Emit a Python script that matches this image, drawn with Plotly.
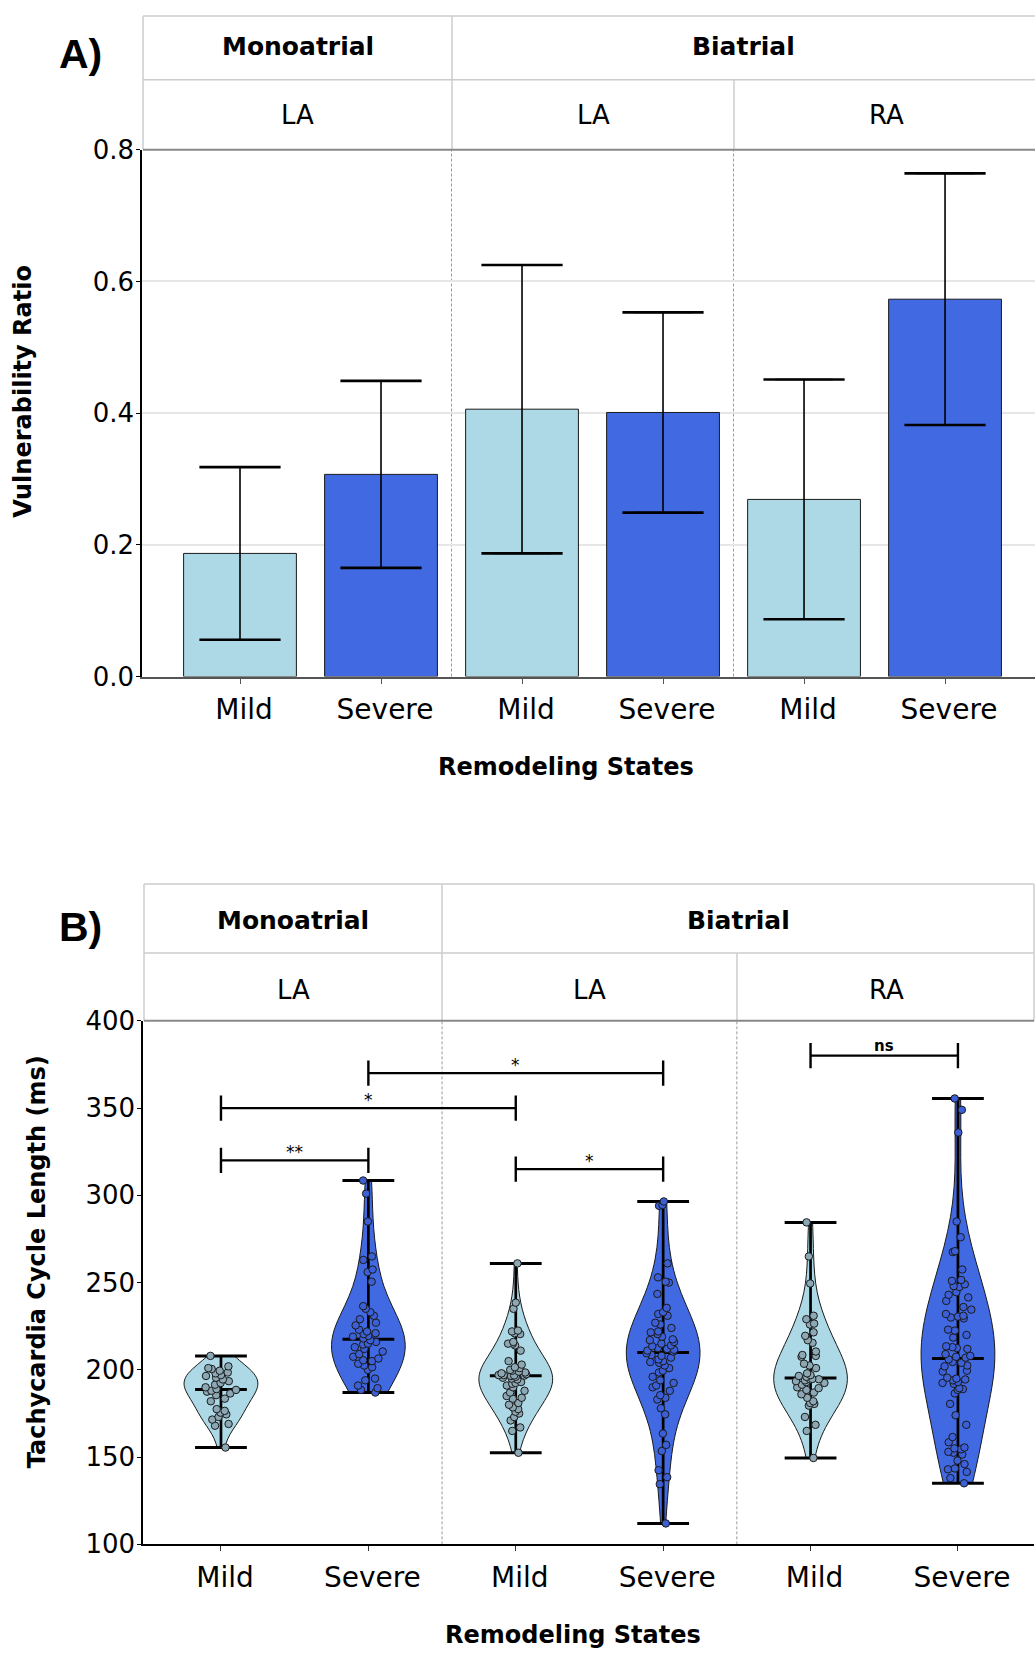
import statistics
import plotly.graph_objects as go

W, H = 1035, 1654

# ---------------- data ----------------
conditions = ["Mild", "Severe", "Mild", "Severe", "Mild", "Severe"]

# Panel A: vulnerability ratio (mean and symmetric error)
vuln_mean = [0.187, 0.307, 0.406, 0.401, 0.269, 0.573]
vuln_err = [0.131, 0.142, 0.219, 0.152, 0.182, 0.191]

# Panel B: tachycardia cycle length samples (ms)
tcl_mono_la_mild = [155.5, 168.0, 169.0, 171.5, 173.0, 174.5, 175.5, 176.5, 177.5, 182.0,
                    183.5, 185.5, 186.5, 187.5, 188.0, 188.5, 189.0, 190.0, 191.5, 192.5,
                    193.5, 194.5, 195.5, 196.5, 197.0, 198.0, 198.5, 199.5, 200.5, 201.0,
                    202.0, 208.0]
tcl_mono_la_severe = [187.0, 188.5, 189.5, 191.0, 194.0, 195.0, 200.0, 201.5, 202.5, 203.5,
                      205.0, 205.5, 206.5, 207.5, 209.0, 210.5, 212.0, 213.0, 214.5, 215.0,
                      216.0, 217.0, 218.0, 219.0, 219.5, 220.5, 221.0, 222.0, 223.0, 225.5,
                      227.0, 229.0, 231.0, 233.0, 235.0, 236.5, 250.5, 256.0, 257.5, 263.0,
                      265.0, 285.0, 301.0, 308.5]
tcl_bi_la_mild = [152.5, 165.0, 167.0, 171.0, 173.0, 175.0, 176.0, 177.5, 178.5, 180.0,
                  181.0, 183.5, 184.0, 185.0, 187.0, 188.0, 190.0, 191.0, 192.0, 192.5,
                  193.0, 194.5, 195.0, 195.5, 196.0, 196.5, 196.7, 196.8, 197.0, 197.0,
                  197.5, 198.0, 198.5, 199.0, 199.5, 200.0, 201.0, 201.5, 203.0, 205.0,
                  211.0, 214.0, 215.0, 215.0, 216.0, 220.5, 221.0, 222.0, 222.5, 235.0,
                  238.5, 261.0]
tcl_bi_la_severe = [112.0, 134.5, 138.5, 142.5, 153.5, 157.0, 163.5, 174.5, 178.0, 183.0,
                    184.0, 185.5, 188.0, 190.0, 191.0, 192.5, 194.0, 196.0, 198.5, 199.5,
                    201.0, 202.5, 204.0, 204.5, 205.0, 206.0, 207.0, 208.0, 208.5, 209.5,
                    210.5, 211.0, 211.5, 212.0, 212.5, 213.5, 214.0, 215.0, 216.0, 217.0,
                    217.5, 219.0, 220.5, 221.5, 222.0, 224.0, 226.0, 227.0, 231.0, 232.0,
                    233.0, 235.5, 243.5, 250.0, 250.5, 253.0, 261.0, 294.0, 294.5, 296.5]
tcl_bi_ra_mild = [149.5, 165.0, 168.5, 173.0, 179.5, 180.5, 181.0, 182.0, 184.0, 186.0,
                  187.0, 188.5, 189.5, 190.0, 191.5, 192.5, 193.0, 193.5, 194.0, 194.5,
                  194.6, 194.8, 196.0, 196.5, 197.0, 198.0, 201.0, 202.5, 203.5, 207.5,
                  208.0, 208.5, 210.5, 215.5, 217.0, 219.5, 221.5, 226.0, 226.5, 229.0,
                  231.0, 249.5, 265.0, 284.5]
tcl_bi_ra_severe = [135.0, 138.0, 141.5, 143.0, 143.5, 146.0, 148.0, 151.5, 152.5, 153.0,
                    154.5, 155.0, 155.5, 158.5, 161.5, 168.5, 174.0, 180.5, 186.5, 188.5,
                    189.0, 189.5, 192.0, 192.5, 193.0, 194.0, 194.5, 195.0, 195.5, 199.0,
                    199.5, 202.0, 202.5, 204.0, 204.5, 206.0, 207.0, 207.5, 208.0, 209.0,
                    212.0, 212.5, 213.0, 213.5, 218.5, 220.0, 222.5, 223.0, 229.5, 230.0,
                    230.5, 231.0, 232.0, 234.5, 236.0, 239.5, 241.5, 243.0, 244.5, 247.5,
                    248.0, 249.0, 251.0, 251.5, 257.5, 267.5, 268.0, 276.0, 285.0, 336.0,
                    349.0, 355.5]

tcl_groups = [tcl_mono_la_mild, tcl_mono_la_severe, tcl_bi_la_mild,
              tcl_bi_la_severe, tcl_bi_ra_mild, tcl_bi_ra_severe]

# Significance comparisons (group index pairs, bracket level in ms, label)
sig_pairs = [(0, 1), (0, 2), (1, 3), (2, 3), (4, 5)]
sig_levels = [320, 350, 370, 315, 380]
sig_labels = ["**", "*", "*", "*", "ns"]

# ---------------- styling ----------------
FILL = {"Mild": "#ADD8E6", "Severe": "#4169E1"}
POINT = {"Mild": "#8DA8B5", "Severe": "#3C5FD6"}
TXT = "DejaVu Sans"
NUM = "DejaVu Sans"

# the rendered page maps layout pixels to screen pixels as y_screen = 0.984*y + 13
Y_SCALE, Y_OFF = 0.984, 13.0


def fx(p):
    return p / W


def fy(p):
    return 1 - ((p - Y_OFF) / Y_SCALE) / H


def kde_bw(vals):
    # Scott's rule, widened a little for smoother outlines
    return 1.3 * statistics.stdev(vals) * len(vals) ** (-0.2)


fig = go.Figure()
xs = list(range(len(conditions)))

# ---------------- Panel A: bars ----------------
fig.add_trace(go.Bar(
    x=xs, y=vuln_mean, width=0.8,
    marker=dict(color=[FILL[c] for c in conditions], line=dict(color="#1a1a1a", width=1)),
    error_y=dict(type="data", array=vuln_err, color="black", thickness=1.6, width=29),
    xaxis="x", yaxis="y", hoverinfo="skip",
))
# heavier caps on the error bars
cap_y = [m + e for m, e in zip(vuln_mean, vuln_err)] + [m - e for m, e in zip(vuln_mean, vuln_err)]
fig.add_trace(go.Scatter(
    x=xs + xs, y=cap_y, mode="markers",
    marker=dict(symbol="line-ew", size=58, color="black", line=dict(color="black", width=2.6)),
    xaxis="x", yaxis="y", hoverinfo="skip",
))

# ---------------- Panel B: violins ----------------
for i, (cond, vals) in enumerate(zip(conditions, tcl_groups)):
    fig.add_trace(go.Violin(
        x=[i] * len(vals), y=vals, width=0.5, scalemode="width", spanmode="hard",
        bandwidth=kde_bw(vals),
        points=False, fillcolor=FILL[cond], line=dict(color="#1a1a1a", width=1),
        box_visible=False, meanline_visible=False,
        xaxis="x2", yaxis="y2", hoverinfo="skip",
    ))

# range line, min/max caps and median line for each violin
rx, ry, cx, cy = [], [], [], []
for i, vals in enumerate(tcl_groups):
    lo, hi, med = min(vals), max(vals), statistics.median(vals)
    rx += [i, i, None]
    ry += [lo, hi, None]
    cx += [i, i, i]
    cy += [lo, hi, med]
fig.add_trace(go.Scatter(x=rx, y=ry, mode="lines", line=dict(color="black", width=2.7),
                         xaxis="x2", yaxis="y2", hoverinfo="skip"))
fig.add_trace(go.Scatter(
    x=cx, y=cy, mode="markers",
    marker=dict(symbol="line-ew", size=37, color="black", line=dict(color="black", width=3)),
    xaxis="x2", yaxis="y2", hoverinfo="skip",
))

# jittered sample points, on an overlaid subplot so they sit above the lines
for i, (cond, vals) in enumerate(zip(conditions, tcl_groups)):
    fig.add_trace(go.Violin(
        x=[i] * len(vals), y=vals, width=0.5, scalemode="width", spanmode="hard",
        bandwidth=kde_bw(vals),
        points="all", pointpos=0, jitter=0.5,
        fillcolor="rgba(0,0,0,0)", line=dict(color="rgba(0,0,0,0)", width=0),
        marker=dict(size=7.5, color=POINT[cond], line=dict(color="#1a1a1a", width=1)),
        box_visible=False, meanline_visible=False,
        xaxis="x3", yaxis="y3", hoverinfo="skip",
    ))

# significance brackets
for (a, b), lvl in zip(sig_pairs, sig_levels):
    fig.add_trace(go.Scatter(
        x=[a, b], y=[lvl, lvl], mode="lines+markers",
        line=dict(color="black", width=2.2),
        marker=dict(symbol="line-ns", size=18, color="black", line=dict(color="black", width=2.4)),
        xaxis="x2", yaxis="y2", hoverinfo="skip",
    ))

annotations = []
for (a, b), lvl, lab in zip(sig_pairs, sig_levels, sig_labels):
    bold = lab == "ns"
    annotations.append(dict(
        x=(a + b) / 2, y=lvl, xref="x2", yref="y2", showarrow=False,
        text=f"<b>{lab}</b>" if bold else lab,
        font=dict(family=TXT, size=15 if bold else 17, color="black"),
        xanchor="center", yanchor="bottom", yshift=-1 if bold else -4,
    ))

# ---------------- strip headers ----------------
shapes = []
STRIP = "#cccccc"


def pline(x0, y0, x1, y1, color=STRIP, width=1.5):
    shapes.append(dict(type="line", xref="paper", yref="paper",
                       x0=fx(x0), y0=fy(y0), x1=fx(x1), y1=fy(y1),
                       line=dict(color=color, width=width)))


# panel A strips
pline(143, 14, 1040, 14)
pline(143, 78, 1040, 78)
pline(143, 14, 143, 148)
pline(452, 14, 452, 148)
pline(734, 78, 734, 148)
pline(143, 148, 1040, 148, color="#888888", width=2)
# panel B strips
pline(144, 884, 1034, 884)
pline(144, 953, 1034, 953)
pline(144, 884, 144, 1021)
pline(1034, 884, 1034, 1021)
pline(442, 884, 442, 1021)
pline(737, 953, 737, 1021)
pline(144, 1021, 1034, 1021, color="#888888", width=2)

# dashed separators between facets
for xr, yr in (("x", "y domain"), ("x2", "y2 domain")):
    for xv in (1.5, 3.5):
        shapes.append(dict(type="line", xref=xr, yref=yr, x0=xv, x1=xv, y0=0, y1=1,
                           line=dict(color="#9a9a9a", width=1, dash="3px,2px"), layer="below"))


def label(text, x, y, size, bold=False, angle=0, family=TXT):
    annotations.append(dict(
        x=fx(x), y=fy(y), xref="paper", yref="paper", showarrow=False,
        text=f"<b>{text}</b>" if bold else text, textangle=angle,
        font=dict(family=family, size=size, color="black"),
        xanchor="center", yanchor="middle",
    ))


label("A)", 80, 52, 41, bold=True, family="Liberation Sans")
label("B)", 80, 927, 41, bold=True, family="Liberation Sans")

label("Monoatrial", 297.5, 45, 25, bold=True)
label("Biatrial", 743, 45, 25, bold=True)
label("LA", 297.5, 113, 26)
label("LA", 593, 113, 26)
label("RA", 886, 113, 26)

label("Monoatrial", 293, 920, 25, bold=True)
label("Biatrial", 738, 920, 25, bold=True)
label("LA", 293, 990, 26)
label("LA", 589.5, 990, 26)
label("RA", 886, 990, 26)

label("Vulnerability Ratio", 23.5, 390, 24, bold=True, angle=-90)
label("Tachycardia Cycle Length (ms)", 37, 1263, 24, bold=True, angle=-90)
label("Remodeling States", 566, 767, 24, bold=True)
label("Remodeling States", 573, 1637, 24, bold=True)

# ---------------- axes ----------------
xcommon = dict(
    tickvals=xs, ticktext=conditions, tickfont=dict(family=TXT, size=28, color="black"),
    ticks="outside", ticklen=5, showline=True, linewidth=2,
    showgrid=False, zeroline=False, ticklabelstandoff=2, ticklabelshift=4,
)
ycommon = dict(
    tickfont=dict(family=NUM, size=26, color="black"),
    ticks="outside", ticklen=4, tickcolor="black", ticklabelstandoff=-3,
    showline=True, linecolor="black", linewidth=1.5, zeroline=False,
)
fig.update_layout(
    width=W, height=H, margin=dict(l=0, r=0, t=0, b=0),
    paper_bgcolor="white", plot_bgcolor="white", showlegend=False,
    violinmode="overlay", barmode="overlay",
    xaxis=dict(domain=[fx(142), 1.0], range=[-0.695, 5.638], anchor="y",
               linecolor="#555555", tickcolor="#555555", **xcommon),
    yaxis=dict(domain=[fy(676), fy(148)], range=[0, 0.8], anchor="x",
               tickvals=[0, 0.2, 0.4, 0.6, 0.8], tickformat=".1f",
               showgrid=True, gridcolor="#e6e6e6", gridwidth=1.5, **ycommon),
    xaxis2=dict(domain=[fx(143), fx(1034)], range=[-0.529, 5.516], anchor="y2",
                linecolor="black", tickcolor="#333333", **xcommon),
    yaxis2=dict(domain=[fy(1545.7), fy(1021)], range=[100, 400], anchor="x2",
                tickvals=[100, 150, 200, 250, 300, 350, 400],
                showgrid=False, **ycommon),
    xaxis3=dict(overlaying="x2", range=[-0.529, 5.516], anchor="y3", visible=False),
    yaxis3=dict(overlaying="y2", range=[100, 400], anchor="x3", visible=False),
    shapes=shapes,
    annotations=annotations,
)

fig.write_html("out.html")
